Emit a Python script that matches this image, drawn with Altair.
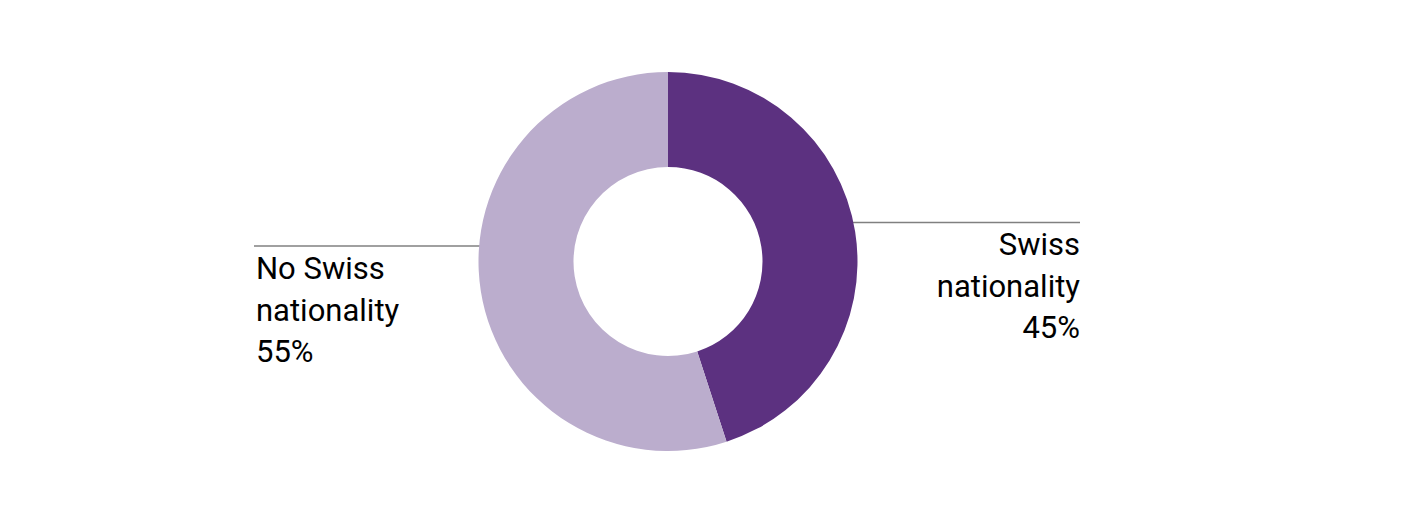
import altair as alt
import pandas as pd

categories = ["Swiss nationality", "No Swiss nationality"]
label_lines = ["Swiss\nnationality", "No Swiss\nnationality"]
values = [45, 55]
colors = ["#5c3180", "#bbadcd"]

df = pd.DataFrame({
    "category": categories,
    "value": values,
    "order": [0, 1],
    "label": [f"{l}\n{v}%" for l, v in zip(label_lines, values)],
})

W, H = 1320, 507

arc = alt.Chart(df).mark_arc(outerRadius=189.5, innerRadius=94.5, stroke=None).encode(
    theta=alt.Theta("value:Q", stack=True),
    order=alt.Order("order:O"),
    color=alt.Color("category:N", scale=alt.Scale(domain=categories, range=colors), legend=None),
)

base_font = dict(font="Roboto", fontSize=31, fontWeight="normal", color="#000000", lineBreak="\n", lineHeight=41.5)

right_text = alt.Chart(df[df.category == categories[0]]).mark_text(
    align="right", baseline="alphabetic", **base_font
).encode(text="label:N", x=alt.value(1072), y=alt.value(247))

left_text = alt.Chart(df[df.category == categories[1]]).mark_text(
    align="left", baseline="alphabetic", **base_font
).encode(text="label:N", x=alt.value(248), y=alt.value(271))

right_rule = alt.Chart(df[df.category == categories[0]]).mark_rule(color="#808080", strokeWidth=1.5).encode(
    x=alt.value(845), x2=alt.value(1072), y=alt.value(214.5)
)
left_rule = alt.Chart(df[df.category == categories[1]]).mark_rule(color="#808080", strokeWidth=1.5).encode(
    x=alt.value(246), x2=alt.value(472), y=alt.value(238)
)

chart = alt.layer(left_rule, right_rule, arc, right_text, left_text).properties(
    width=W, height=H, padding=0, background="white",
    autosize=alt.AutoSizeParams(type="none")
).configure_view(stroke=None, strokeWidth=0)

chart.save("out.html", embed_options={"renderer": "svg", "actions": False})
